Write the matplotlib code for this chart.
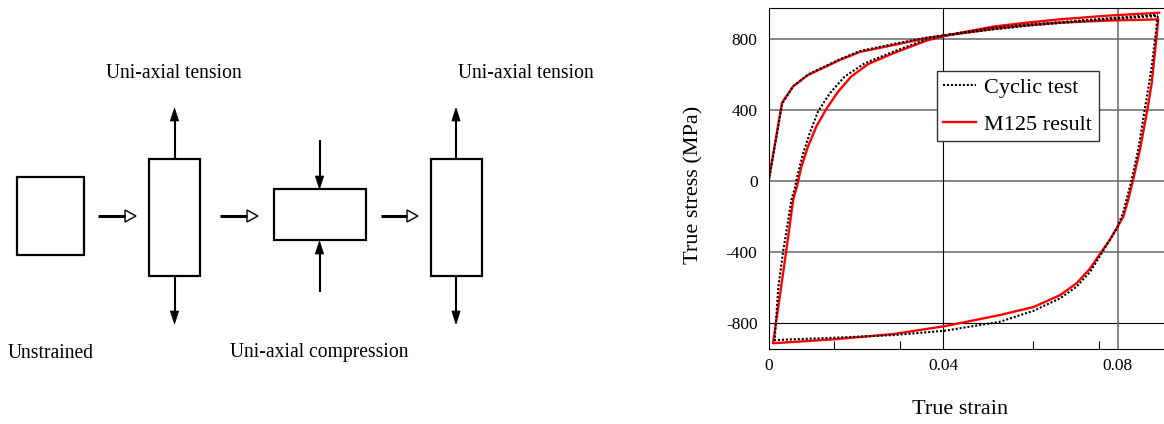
import numpy as np
import matplotlib
matplotlib.use("Agg")
import matplotlib.pyplot as plt
from matplotlib.patches import Polygon, Rectangle

plt.rcParams['font.family'] = ['Liberation Serif', 'DejaVu Serif']

# --- Hysteresis data (true strain, true stress MPa) ---
test_strain = [0, 0.0031, 0.0056, 0.009, 0.0128, 0.0163, 0.0209, 0.0286, 0.0362, 0.0406,
               0.0515, 0.0591, 0.0668, 0.078, 0.0892,
               0.0890, 0.0878, 0.0862, 0.0847, 0.0832, 0.0824, 0.0813, 0.0800, 0.0782, 0.0763,
               0.0737, 0.0706, 0.0668, 0.0607, 0.0530, 0.0405, 0.0286, 0.0148, 0.00137,
               0.0022, 0.0033, 0.0052, 0.0060, 0.0067, 0.0079, 0.0094, 0.0113, 0.0140, 0.0174,
               0.0220, 0.0286, 0.0362, 0.0406, 0.0515, 0.0591, 0.0668, 0.078, 0.0892]
test_stress = [0, 435, 532, 598, 643, 684, 730, 770, 806, 820,
               852, 872, 888, 910, 928,
               887, 642, 398, 173, 4, -71, -175, -259, -334, -410,
               -513, -597, -663, -733, -795, -845, -870, -885, -898,
               -600, -400, -109, -40, 41, 154, 267, 389, 492, 586,
               661, 727, 797, 820, 862, 880, 893, 915, 935]

m125_strain = [0, 0.00305, 0.00557, 0.009, 0.0128, 0.0163, 0.0209, 0.0286, 0.0362, 0.0406,
               0.0515, 0.0591, 0.0668, 0.078, 0.0893,
               0.0890, 0.0878, 0.0868, 0.0851, 0.0835, 0.0824, 0.0813, 0.0800, 0.0782, 0.0763,
               0.0737, 0.0706, 0.0668, 0.0607, 0.0530, 0.0405, 0.0286, 0.0148, 0.0010,
               0.0040, 0.0056, 0.0065, 0.0075, 0.0090, 0.0109, 0.0132, 0.0159, 0.0189, 0.0228,
               0.0286, 0.0362, 0.0406, 0.0515, 0.0591, 0.0668, 0.078, 0.0895]
m125_stress = [0, 439, 530, 595, 639, 680, 725, 764, 803, 818,
               855, 875, 890, 902, 909,
               830, 549, 398, 173, 0, -109, -203, -259, -334, -400,
               -494, -578, -645, -712, -757, -819, -864, -894, -916,
               -400, -109, -30, 79, 192, 304, 404, 501, 586, 657,
               718, 789, 817, 868, 890, 909, 930, 946]

stress_ticks = [-800, -400, 0, 400, 800]
stress_labels = ['-800', '-400', '0', '400', '800']
strain_ticks = [0, 0.04, 0.08]
strain_labels = ['0', '0.04', '0.08']
minor_strain = [0.015, 0.0302, 0.0605, 0.0757]

# --- Schematic (figure pixel space) ---
boxes = [(17, 177, 67, 78), (149, 159, 51, 117), (274, 189, 92, 51), (431, 159, 51, 117)]
flow_arrows = [(98, 125, 216), (220, 247, 216), (381, 407, 216)]   # x0, x1 (head start), y
force_arrows = [(174.5, 159, 108), (174.5, 276, 324), (319.5, 140, 189), (319.5, 292, 241),
                (456, 159, 108), (456, 276, 324)]                    # x, tail y, tip y
captions = [("Uni-axial tension", 174, 73), ("Uni-axial tension", 526, 73),
            ("Unstrained", 51, 353), ("Uni-axial compression", 319, 352)]

W, H = 1164, 424
fig = plt.figure(figsize=(W / 100, H / 100), dpi=100)

ax0 = fig.add_axes([0, 0, 1, 1])
ax0.set_xlim(0, W)
ax0.set_ylim(H, 0)
ax0.axis('off')

for x0, y0, w, h in boxes:
    ax0.add_patch(Rectangle((x0, y0), w, h, fill=False, ec='black', lw=1.6))

for x0, x1, y in flow_arrows:
    ax0.plot([x0, x1], [y, y], color='black', lw=2.2, solid_capstyle='butt')
    ax0.add_patch(Polygon([(x1, y - 6), (x1 + 11, y), (x1, y + 6)], closed=True,
                          fc='white', ec='black', lw=1.0))

for x, ya, yb in force_arrows:
    d = np.sign(yb - ya)
    hl, hw = 13, 4.2
    ax0.plot([x, x], [ya, yb - d * hl], color='black', lw=1.5, solid_capstyle='butt')
    ax0.add_patch(Polygon([(x - hw, yb - d * hl), (x, yb), (x + hw, yb - d * hl)],
                          closed=True, fc='black', ec='black', lw=0.5))

for txt, x, y in captions:
    ax0.text(x, y, txt, ha='center', va='center', fontsize=14.1)

# --- Stress-strain plot ---
left, right = 768.7 / W, 1.0
bottom, top = 1 - 349.3 / H, 1 - 8.3 / H
ax = fig.add_axes([left, bottom, right - left, top - bottom])
ax.set_xlim(0, (W - 768.7) / 4362)
ax.set_ylim(-950, 971)

for v in stress_ticks:
    if v == -800:
        ax.axhline(v, color='black', lw=0.8, zorder=1)
    else:
        ax.axhline(v, color='#666666', lw=1.1, zorder=1)
ax.axvline(0.04, color='black', lw=0.8, zorder=1)
ax.axvline(0.08, color='#666666', lw=1.1, zorder=1)

ax.plot(test_strain, test_stress, color='black', lw=1.5, linestyle=(0, (1, 0.9)),
        label='Cyclic test', zorder=3)
ax.plot(m125_strain, m125_stress, color='red', lw=1.7, label='M125 result', zorder=2)

ax.set_yticks(stress_ticks)
ax.set_yticklabels(stress_labels)
ax.set_xticks(strain_ticks)
ax.set_xticklabels(strain_labels)
ax.set_xticks(minor_strain, minor=True)
ax.tick_params(axis='y', length=0, pad=8, labelsize=12.5)
ax.tick_params(axis='x', which='major', length=0, pad=6, labelsize=12.5)
ax.tick_params(axis='x', which='minor', direction='in', length=5.5, width=0.8)
ax.spines['right'].set_visible(False)
for s in ['left', 'bottom', 'top']:
    ax.spines[s].set_linewidth(0.8)

leg = ax.legend(loc='upper left', bbox_to_anchor=(936.7 / W, 1 - 71 / H),
                bbox_transform=fig.transFigure, borderaxespad=0, fontsize=16,
                fancybox=False, framealpha=1, edgecolor='#333333', handlelength=1.45,
                handletextpad=0.4, borderpad=0.3, labelspacing=0.72)
leg.get_frame().set_linewidth(1.0)

fig.text(960 / W, 1 - 410 / H, 'True strain', ha='center', va='center', fontsize=16)
fig.text(694 / W, 1 - 185 / H, 'True stress (MPa)', ha='center', va='center',
         rotation=90, fontsize=16)

fig.savefig('out.png', dpi=100)
